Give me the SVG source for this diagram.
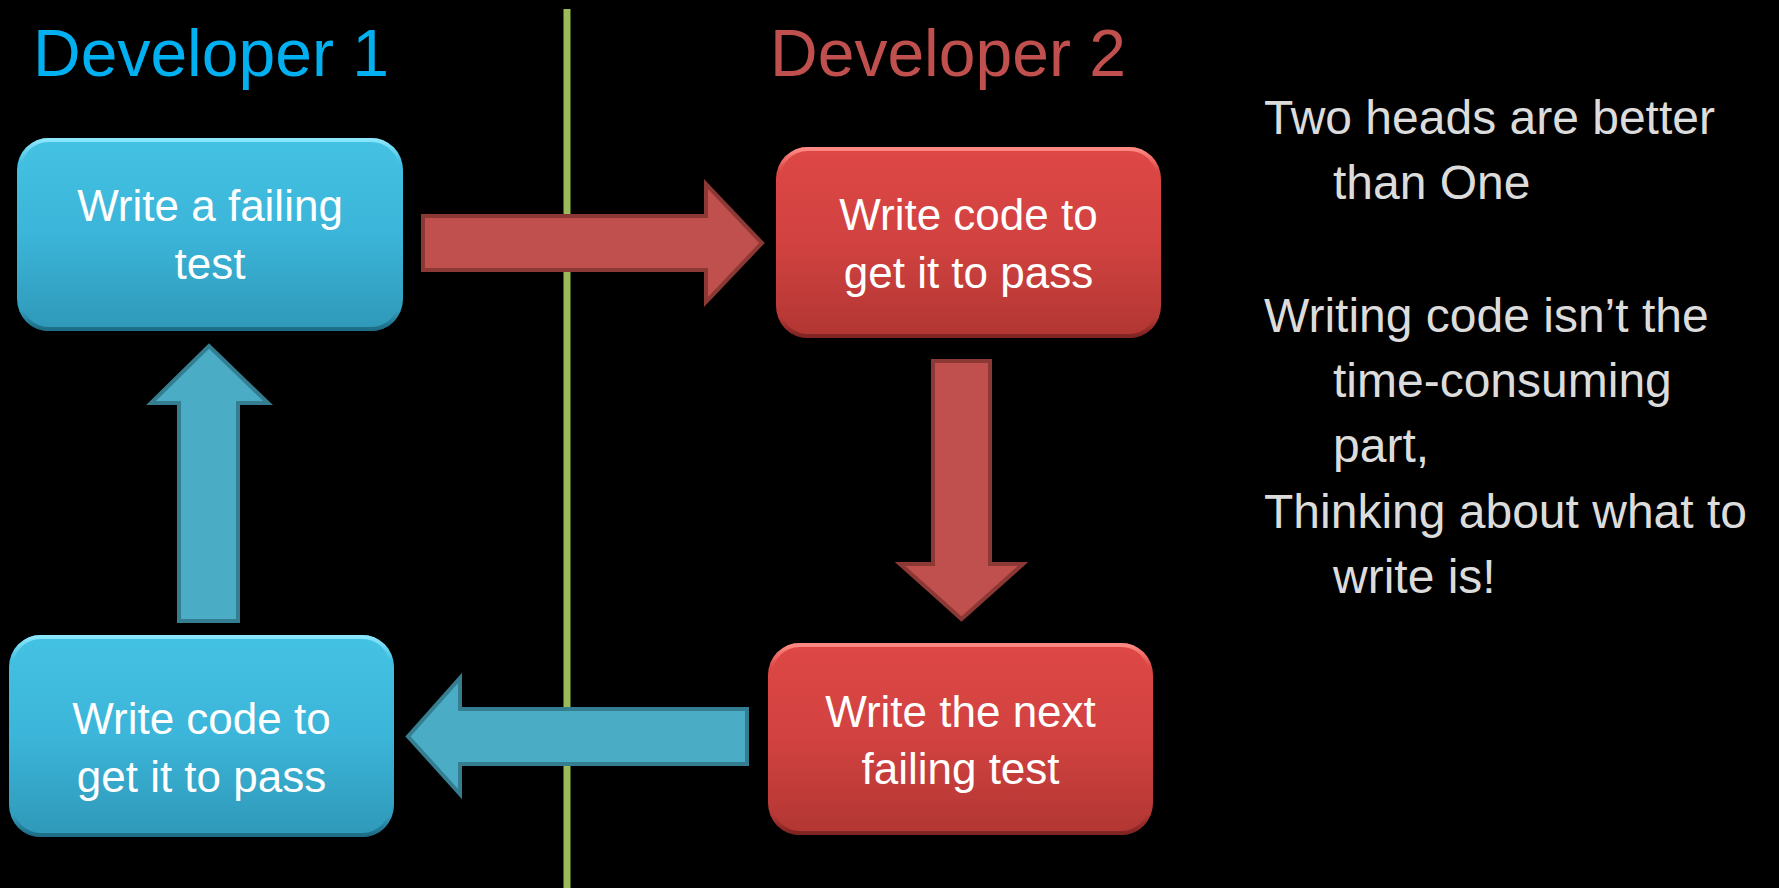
<svg xmlns="http://www.w3.org/2000/svg" width="1779" height="888" viewBox="0 0 1779 888">
  <defs>
    <linearGradient id="gBlue" x1="0" y1="0" x2="0" y2="1">
      <stop offset="0" stop-color="#44c2e3"/>
      <stop offset="0.5" stop-color="#3bb5d9"/>
      <stop offset="1" stop-color="#2f98b8"/>
    </linearGradient>
    <linearGradient id="gRed" x1="0" y1="0" x2="0" y2="1">
      <stop offset="0" stop-color="#de4846"/>
      <stop offset="0.5" stop-color="#d14240"/>
      <stop offset="1" stop-color="#b13633"/>
    </linearGradient>
    <linearGradient id="hlBlue" x1="0" y1="0" x2="0" y2="1">
      <stop offset="0" stop-color="#8ae6fb" stop-opacity="1"/>
      <stop offset="0.12" stop-color="#8ae6fb" stop-opacity="0"/>
      <stop offset="0.9" stop-color="#1c6880" stop-opacity="0"/>
      <stop offset="1" stop-color="#1c6880" stop-opacity="0.9"/>
    </linearGradient>
    <linearGradient id="hlRed" x1="0" y1="0" x2="0" y2="1">
      <stop offset="0" stop-color="#ff8a84" stop-opacity="1"/>
      <stop offset="0.12" stop-color="#ff8a84" stop-opacity="0"/>
      <stop offset="0.9" stop-color="#7a2220" stop-opacity="0"/>
      <stop offset="1" stop-color="#7a2220" stop-opacity="0.9"/>
    </linearGradient>
    <style>
      .heading { font-family: "Liberation Sans", Arial, sans-serif; font-size: 66px; text-anchor: middle; }
      .label { font-family: "Liberation Sans", Arial, sans-serif; font-size: 44px; fill: #ffffff; text-anchor: middle; }
      .note { font-family: "Liberation Sans", Arial, sans-serif; font-size: 48px; fill: #dcdcdc; }
      .boxBlue { fill: url(#gBlue); }
      .boxRed { fill: url(#gRed); }
      .rimBlue { fill: none; stroke: url(#hlBlue); stroke-width: 4; }
      .rimRed { fill: none; stroke: url(#hlRed); stroke-width: 4; }
      .arrowRed { fill: #c0504d; stroke: #8c3835; stroke-width: 4; stroke-linejoin: miter; }
      .arrowBlue { fill: #4bacc6; stroke: #357e92; stroke-width: 4; stroke-linejoin: miter; }
    </style>
  </defs>

  <rect x="0" y="0" width="1779" height="888" fill="#000000"/>

  <g id="divider">
    <line x1="567" y1="9" x2="567" y2="888" stroke="#9bbb59" stroke-width="7"/>
  </g>

  <g id="headings">
    <text class="heading" x="211" y="76" fill="#00b0f0">Developer 1</text>
    <text class="heading" x="948" y="76" fill="#c0504d">Developer 2</text>
  </g>

  <g id="connectors">
    <polygon class="arrowRed" points="423,216 706,216 706,184 762,243 706,302 706,270 423,270"/>
    <polygon class="arrowRed" points="933,361 990,361 990,564 1023,564 961.5,619 900,564 933,564"/>
    <polygon class="arrowBlue" points="747,709 460,709 460,678 408,736.5 460,794 460,764 747,764"/>
    <polygon class="arrowBlue" points="179,621 179,403 151,403 209,346 268,403 238,403 238,621"/>
  </g>

  <g id="node-write-failing-test">
    <rect class="boxBlue" x="17" y="138" width="386" height="193" rx="32"/>
    <rect class="rimBlue" x="19" y="140" width="382" height="189" rx="30"/>
    <text class="label" x="210" y="221">Write a failing</text>
    <text class="label" x="210" y="279">test</text>
  </g>

  <g id="node-dev2-write-code">
    <rect class="boxRed" x="776" y="147" width="385" height="191" rx="32"/>
    <rect class="rimRed" x="778" y="149" width="381" height="187" rx="30"/>
    <text class="label" x="968.5" y="230">Write code to</text>
    <text class="label" x="968.5" y="288">get it to pass</text>
  </g>

  <g id="node-write-next-failing-test">
    <rect class="boxRed" x="768" y="643" width="385" height="192" rx="32"/>
    <rect class="rimRed" x="770" y="645" width="381" height="188" rx="30"/>
    <text class="label" x="960.5" y="727">Write the next</text>
    <text class="label" x="960.5" y="784">failing test</text>
  </g>

  <g id="node-dev1-write-code">
    <rect class="boxBlue" x="9" y="635" width="385" height="202" rx="32"/>
    <rect class="rimBlue" x="11" y="637" width="381" height="198" rx="30"/>
    <text class="label" x="201.5" y="734">Write code to</text>
    <text class="label" x="201.5" y="792">get it to pass</text>
  </g>

  <g id="notes">
    <text class="note" x="1264" y="134">Two heads are better</text>
    <text class="note" x="1333" y="199">than One</text>
    <text class="note" x="1264" y="332">Writing code isn’t the</text>
    <text class="note" x="1333" y="397">time-consuming</text>
    <text class="note" x="1333" y="462">part,</text>
    <text class="note" x="1264" y="528">Thinking about what to</text>
    <text class="note" x="1333" y="593">write is!</text>
  </g>
</svg>
